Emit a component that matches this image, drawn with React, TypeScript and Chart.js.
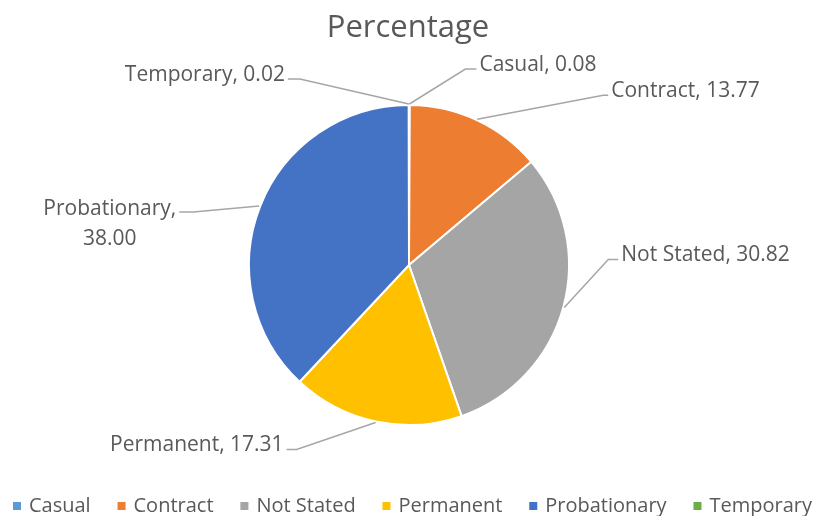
import React, { useEffect, useRef } from "react";
import { Chart, registerables } from "chart.js";

Chart.register(...registerables);

const categories = ["Casual", "Contract", "Not Stated", "Permanent", "Probationary", "Temporary"];
const percentages = [0.08, 13.77, 30.82, 17.31, 38.0, 0.02];
const sliceColors = ["#5B9BD5", "#ED7D31", "#A5A5A5", "#FFC000", "#4472C4", "#70AD47"];
const chartTitle = "Percentage";

// label leader-line layout (offset of the elbow from the slice edge, tail length, side)
const labelLayout = [
  { dx: 56, dy: -35, tail: 11, side: "right", wrap: false },
  { dx: 126, dy: -24, tail: 5, side: "right", wrap: false },
  { dx: 44, dy: -48, tail: 10, side: "right", wrap: false },
  { dx: -79, dy: 27, tail: 10, side: "left", wrap: false },
  { dx: -66, dy: 6, tail: 14, side: "left", wrap: true },
  { dx: -109, dy: -25, tail: 12, side: "left", wrap: false },
];

const FONT = "'Open Sans', 'Noto Sans', sans-serif";
const TEXT_COLOR = "#595959";

const labelsPlugin = {
  id: "excelLabels",
  afterDatasetsDraw(chart: any) {
    const ctx = chart.ctx;
    const meta = chart.getDatasetMeta(0);
    const ds = chart.data.datasets[0];
    ctx.save();
    ctx.font = `21px ${FONT}`;
    ctx.fillStyle = TEXT_COLOR;
    ctx.textBaseline = "alphabetic";
    meta.data.forEach((arc: any, i: number) => {
      const p = arc.getProps(["x", "y", "startAngle", "endAngle", "outerRadius"], true);
      const mid = (p.startAngle + p.endAngle) / 2;
      const ax = p.x + Math.cos(mid) * (p.outerRadius + 1);
      const ay = p.y + Math.sin(mid) * (p.outerRadius + 1);
      const L = labelLayout[i];
      const ex = ax + L.dx;
      const ey = ay + L.dy;
      const dir = L.side === "right" ? 1 : -1;
      const tx = ex + dir * L.tail;
      ctx.strokeStyle = "#A6A6A6";
      ctx.lineWidth = 1.5;
      ctx.beginPath();
      ctx.moveTo(ax, ay);
      ctx.lineTo(ex, ey);
      ctx.lineTo(tx, ey);
      ctx.stroke();
      const val = (ds.data[i] as number).toFixed(2);
      const cat = chart.data.labels[i];
      if (L.wrap) {
        const lines = [`${cat},`, val];
        const w = Math.max(...lines.map((s) => ctx.measureText(s).width));
        const cx = tx - 3 - w / 2;
        ctx.textAlign = "center";
        lines.forEach((s, k) => ctx.fillText(s, cx, ey + 3 + k * 30));
      } else {
        const text = `${cat}, ${val}`;
        ctx.textAlign = dir === 1 ? "left" : "right";
        ctx.fillText(text, tx + dir * 3, ey + 1.5);
      }
    });
    ctx.restore();
  },
  afterDraw(chart: any) {
    const ctx = chart.ctx;
    ctx.save();
    // title
    ctx.font = `31px ${FONT}`;
    ctx.fillStyle = TEXT_COLOR;
    ctx.textAlign = "center";
    ctx.textBaseline = "alphabetic";
    ctx.fillText(chartTitle, 408, 37);
    // legend
    ctx.font = `20px ${FONT}`;
    const box = 8;
    const gapBoxText = 8;
    const widths = categories.map((c) => box + gapBoxText + ctx.measureText(c).width);
    const start = 13;
    const end = 812;
    const total = widths.reduce((a, b) => a + b, 0);
    const gap = (end - start - total) / (categories.length - 1);
    let x = start;
    ctx.textAlign = "left";
    categories.forEach((c, i) => {
      ctx.fillStyle = sliceColors[i];
      ctx.fillRect(x, 502, box, box);
      ctx.fillStyle = TEXT_COLOR;
      ctx.fillText(c, x + box + gapBoxText, 512);
      x += widths[i] + gap;
    });
    ctx.restore();
  },
};

export default function App() {
  const ref = useRef<HTMLCanvasElement | null>(null);
  useEffect(() => {
    if (!ref.current) return;
    const chart = new Chart(ref.current, {
      type: "pie",
      data: {
        labels: categories,
        datasets: [
          {
            data: percentages,
            backgroundColor: sliceColors,
            borderColor: "#ffffff",
            borderWidth: 2,
          },
        ],
      },
      options: {
        responsive: false,
        animation: false,
        layout: { padding: { top: 104, bottom: 90, left: 1, right: 0 } },
        plugins: {
          legend: { display: false },
          title: { display: false },
          tooltip: { enabled: false },
        },
      },
      plugins: [labelsPlugin],
    });
    return () => chart.destroy();
  }, []);
  return (
    <div style={{ position: "fixed", left: 0, top: 0, width: 817, height: 516, background: "#fff" }}>
      <canvas ref={ref} width={817} height={516} style={{ display: "block" }} />
    </div>
  );
}
